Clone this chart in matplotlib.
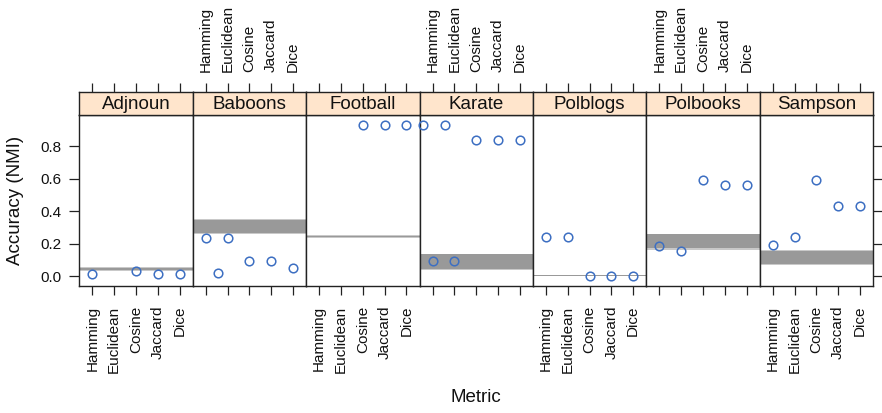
import matplotlib
matplotlib.use("Agg")
import matplotlib.pyplot as plt

plt.rcParams['font.family'] = ['Liberation Sans', 'DejaVu Sans']

metrics = ["Hamming", "Euclidean", "Cosine", "Jaccard", "Dice"]
networks = ["Adjnoun", "Baboons", "Football", "Karate", "Polblogs", "Polbooks", "Sampson"]

# point positions (metric index, 1-based) and NMI values per network
adjnoun_x = [1, 3, 4, 5]
adjnoun_y = [0.014, 0.029, 0.014, 0.014]
baboons_x = [1, 1.55, 2, 3, 4, 5]
baboons_y = [0.236, 0.017, 0.236, 0.092, 0.092, 0.047]
football_x = [3, 4, 5]
football_y = [0.927, 0.927, 0.927]
karate_x = [0.56, 1.56, 1, 2, 3, 4, 5]
karate_y = [0.927, 0.927, 0.090, 0.090, 0.837, 0.837, 0.837]
polblogs_x = [1, 2, 3, 4, 5]
polblogs_y = [0.242, 0.242, 0.0, 0.0, 0.0]
polbooks_x = [1, 2, 3, 4, 5]
polbooks_y = [0.185, 0.154, 0.589, 0.562, 0.562]
sampson_x = [1, 2, 3, 4, 5]
sampson_y = [0.189, 0.240, 0.589, 0.429, 0.429]

# baseline bands: inner (dark) and outer (light) ranges
band_inner_lo = [0.039, 0.263, 0.241, 0.041, 0.000, 0.174, 0.074]
band_inner_hi = [0.051, 0.345, 0.246, 0.135, 0.005, 0.257, 0.156]
band_outer_lo = [0.033, 0.257, 0.236, 0.040, -0.002, 0.162, 0.068]
band_outer_hi = [0.058, 0.351, 0.250, 0.136, 0.007, 0.260, 0.162]

yticks = [0.0, 0.2, 0.4, 0.6, 0.8]

points_x = [adjnoun_x, baboons_x, football_x, karate_x, polblogs_x, polbooks_x, sampson_x]
points_y = [adjnoun_y, baboons_y, football_y, karate_y, polblogs_y, polbooks_y, sampson_y]

W, H = 882, 413
fig = plt.figure(figsize=(W / 100, H / 100), dpi=100)

left_px = 79.3
panel_w = 113.4
panel_top = 115.0
panel_bot = 286.3
strip_top = 91.7

frame_col = "#222222"
pt_col = "#3d6fc2"
strip_col = "#ffe5cc"

xlim = (0.4, 5.6)
ylim = (-0.063, 0.991)

for i, name in enumerate(networks):
    x0 = (left_px + i * panel_w) / W
    ax = fig.add_axes([x0, 1 - panel_bot / H, panel_w / W, (panel_bot - panel_top) / H])
    sx = fig.add_axes([x0, 1 - panel_top / H, panel_w / W, (panel_top - strip_top) / H])
    ax.set_xlim(*xlim)
    ax.set_ylim(*ylim)
    sx.set_xlim(*xlim)
    sx.set_ylim(0, 1)
    sx.set_facecolor(strip_col)
    sx.text(0.5, 0.45, name, transform=sx.transAxes, ha="center", va="center",
            fontsize=13.5, color="#111111")

    ax.axhspan(band_outer_lo[i], band_outer_hi[i], color="#c9c9c9", lw=0, zorder=1)
    ax.axhspan(band_inner_lo[i], band_inner_hi[i], color="#999999", lw=0, zorder=2)
    ax.plot(points_x[i], points_y[i], linestyle="none", marker="o", markersize=6.2,
            markerfacecolor="none", markeredgecolor=pt_col, markeredgewidth=1.1,
            zorder=3, clip_on=False)

    for a in (ax, sx):
        for s in a.spines.values():
            s.set_color(frame_col)
            s.set_linewidth(1.0)

    pos = list(range(1, len(metrics) + 1))
    # bottom ticks on panel
    ax.set_xticks(pos)
    ax.tick_params(axis="x", direction="out", length=6.5, width=0.9, color=frame_col,
                   labelsize=11, pad=7.5, labelcolor="#111111",
                   bottom=True, top=False)
    if i % 2 == 0:
        ax.set_xticklabels(metrics, rotation=90, va="top")
    else:
        ax.set_xticklabels([])
    # top ticks on strip
    sx.set_yticks([])
    sx.set_xticks(pos)
    sx.tick_params(axis="x", direction="out", length=6.5, width=0.9, color=frame_col,
                   labelsize=11, pad=7.5, labelcolor="#111111",
                   bottom=False, top=True, labelbottom=False, labeltop=(i % 2 == 1))
    if i % 2 == 1:
        sx.set_xticklabels(metrics, rotation=90, va="bottom")

    ax.set_yticks(yticks)
    if i == 0:
        ax.set_yticklabels([f"{v:.1f}" for v in yticks])
        ax.tick_params(axis="y", direction="out", length=7, width=0.9, color=frame_col,
                       labelsize=11, pad=5.5, labelcolor="#111111", left=True, right=False)
    elif i == len(networks) - 1:
        ax.tick_params(axis="y", direction="out", length=7, width=0.9, color=frame_col,
                       left=False, right=True, labelleft=False, labelright=False)
    else:
        ax.tick_params(axis="y", left=False, right=False, labelleft=False)

fig.text(16 / W, 1 - 200 / H, "Accuracy (NMI)", rotation=90, ha="center", va="center",
         fontsize=13.5, color="#111111")
fig.text(476 / W, 1 - 398 / H, "Metric", ha="center", va="center",
         fontsize=13.5, color="#111111")

fig.savefig("out.png", dpi=100)
